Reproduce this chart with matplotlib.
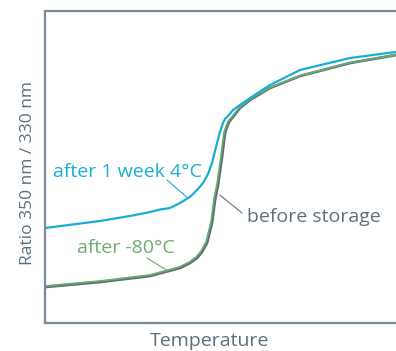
"""Intrinsic fluorescence ratio vs temperature before/after storage."""

import matplotlib

matplotlib.use("Agg")
import matplotlib.pyplot as plt

# values (x: temperature, y: 350/330 nm ratio)
temp_before = [20, 31.11, 41.21, 47.27, 49.29, 50.71, 51.72, 52.73, 53.74,
               54.34, 54.95, 55.76, 56.36, 56.77, 57.17, 57.98, 59.39, 61.41,
               65.45, 71.52, 81.62, 90.91, 100]
ratio_before = [0.8346, 0.8394, 0.8452, 0.8529, 0.8577, 0.8625, 0.8683, 0.8769,
                0.8962, 0.9183, 0.9327, 0.9596, 0.9827, 0.9885, 0.9933, 0.9981,
                1.0067, 1.0144, 1.0260, 1.0375, 1.0500, 1.0577, 1.0635]

temp_m80 = [20, 31.11, 41.21, 47.17, 49.17, 50.55, 51.54, 52.53, 53.54,
            54.14, 54.75, 55.56, 56.16, 56.60, 57.00, 57.85, 59.30, 61.35,
            65.45, 71.52, 81.62, 90.91, 100]
ratio_m80 = [0.8356, 0.8404, 0.8462, 0.8539, 0.8587, 0.8635, 0.8693, 0.8779,
             0.8972, 0.9193, 0.9337, 0.9606, 0.9835, 0.9892, 0.9940, 0.9988,
             1.0073, 1.0150, 1.0264, 1.0378, 1.0503, 1.0580, 1.0637]

temp_4c = [20, 31.11, 37.17, 41.21, 43.23, 45.25, 47.27, 48.28, 49.29, 50.71,
           51.92, 52.93, 53.74, 54.75, 55.35, 55.96, 56.36, 56.97, 57.98,
           59.39, 61.41, 65.45, 71.52, 81.62, 90.91, 100]
ratio_4c = [0.8913, 0.8981, 0.9029, 0.9067, 0.9091, 0.9106, 0.9154, 0.9183,
            0.9212, 0.9279, 0.9346, 0.9433, 0.9538, 0.9731, 0.9837, 0.9923,
            0.9962, 0.9990, 1.0048, 1.0096, 1.0163, 1.0288, 1.0433, 1.0548,
            1.0606, 1.0654]

CYAN = "#17aed6"
GREEN = "#6aae6c"
GREY = "#5d6f7d"
AXIS = "#7b8995"

plt.rcParams["font.family"] = ["Open Sans", "DejaVu Sans"]

fig = plt.figure(figsize=(3.96, 3.51), dpi=100)
ax = fig.add_axes([45 / 396, 28 / 351, 1.0, 312 / 351])

style = dict(solid_capstyle="round", solid_joinstyle="round")
ax.plot(temp_before, ratio_before, color=GREY, lw=2.0, **style)
ax.plot(temp_m80, ratio_m80, color=GREEN, lw=1.2, **style)
ax.plot(temp_4c, ratio_4c, color=CYAN, lw=1.6, **style)

ax.set_xlim(20, 100)
ax.set_ylim(0.80, 1.10)
ax.set_xticks([])
ax.set_yticks([])
for side in ax.spines.values():
    side.set_color(AXIS)
    side.set_linewidth(1.6)

fig.text(210 / 396, 1 - 341 / 351, "Temperature", fontsize=14, color=GREY,
         ha="center", va="center")
fig.text(28 / 396, 1 - 173 / 351, "Ratio 350 nm / 330 nm", fontsize=12.5,
         color=GREY, ha="center", va="center", rotation=90)

line = dict(arrowstyle="-", lw=0.8, shrinkA=0, shrinkB=0)
ax.text(21.6, 0.9452, "after 1 week 4°C", color=CYAN, fontsize=14,
        va="center", ha="left")
ax.annotate("", xy=(48.9, 0.9200), xytext=(44.65, 0.9375),
            arrowprops={**line, "color": CYAN})

ax.text(26.5, 0.872, "after -80°C", color=GREEN, fontsize=14,
        va="center", ha="left")
ax.annotate("", xy=(44.85, 0.8500), xytext=(40.6, 0.8625),
            arrowprops={**line, "color": GREEN})

ax.text(60.8, 0.902, "before storage", color=GREY, fontsize=14,
        va="center", ha="left")
ax.annotate("", xy=(55.35, 0.9230), xytext=(59.8, 0.9058),
            arrowprops={**line, "color": GREY})

fig.savefig("out.png", dpi=100)
